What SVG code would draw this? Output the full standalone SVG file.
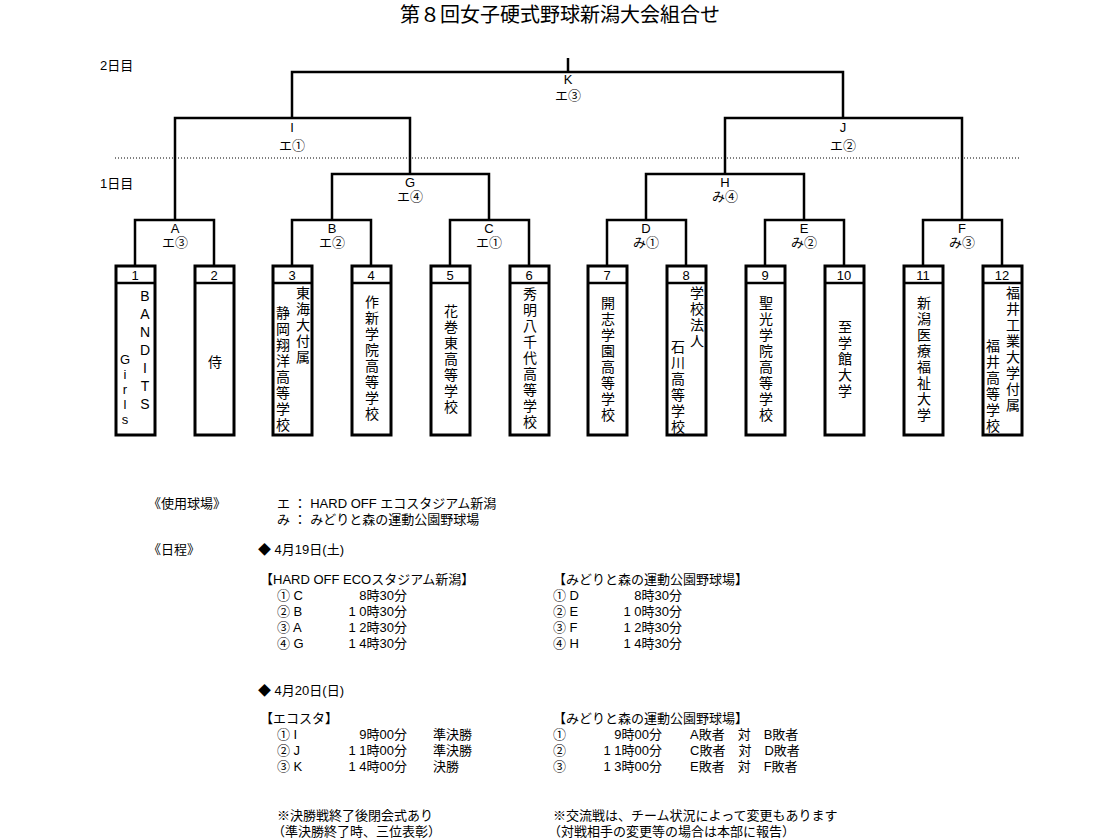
<svg xmlns="http://www.w3.org/2000/svg" width="1120" height="840" viewBox="0 0 1120 840">
<style>
text{font-family:"Liberation Sans","Noto Sans CJK JP",sans-serif;font-size:13px;fill:#000}
.t{font-size:20px}
.c{text-anchor:middle}
.e{text-anchor:end}
.v{writing-mode:vertical-rl;text-orientation:upright;font-size:14px;letter-spacing:2px}
.ln{stroke:#000;stroke-width:2.5;fill:none}
.bx{stroke:#000;stroke-width:3;fill:#fff}
</style>
<rect width="1120" height="840" fill="#fff"/>
<text class="t c" x="560" y="22">第８回女子硬式野球新潟大会組合せ</text>
<text x="100" y="70">2日目</text>
<text x="100" y="188">1日目</text>
<line x1="115" y1="158" x2="1020" y2="158" stroke="#000" stroke-width="1" stroke-dasharray="1,2"/>
<g id="connectors" class="ln">
<path d="M568 58V72M292 118V72H843V118"/>
<path d="M175 220V118H410V174M725 174V118H962V220"/>
<path d="M332 220V174H489V220M646 220V174H804V220"/>
<path d="M135 266V220H214V266M292 266V220H371V266M450 266V220H529V266"/>
<path d="M607 266V220H686V266M765 266V220H844V266M923 266V220H1002V266"/>
</g>
<g id="labels">
<text class="c" x="568" y="84">K</text><text class="c" x="568" y="100">エ③</text>
<text class="c" x="292" y="132">I</text><text class="c" x="292" y="150">エ①</text>
<text class="c" x="843" y="132">J</text><text class="c" x="843" y="150">エ②</text>
<text class="c" x="410" y="187">G</text><text class="c" x="410" y="201">エ④</text>
<text class="c" x="725" y="187">H</text><text class="c" x="725" y="201">み④</text>
<text class="c" x="175" y="233">A</text><text class="c" x="175" y="247">エ③</text>
<text class="c" x="332" y="233">B</text><text class="c" x="332" y="247">エ②</text>
<text class="c" x="489" y="233">C</text><text class="c" x="489" y="247">エ①</text>
<text class="c" x="646" y="233">D</text><text class="c" x="646" y="247">み①</text>
<text class="c" x="804" y="233">E</text><text class="c" x="804" y="247">み②</text>
<text class="c" x="962" y="233">F</text><text class="c" x="962" y="247">み③</text>
</g>
<g id="t1"><rect class="bx" x="116" y="266" width="39" height="169"/><line class="ln" x1="116" y1="283" x2="155" y2="283"/><text class="c" x="135" y="280">1</text><text class="v" x="145" y="288">BANDITS</text><text class="v" x="125" y="352" style="letter-spacing:0;font-size:13px">Girls</text></g>
<g id="t2"><rect class="bx" x="195" y="266" width="39" height="169"/><line class="ln" x1="195" y1="283" x2="234" y2="283"/><text class="c" x="214" y="280">2</text><text class="v" x="214" y="355">侍</text></g>
<g id="t3"><rect class="bx" x="273" y="266" width="39" height="169"/><line class="ln" x1="273" y1="283" x2="312" y2="283"/><text class="c" x="292" y="280">3</text><text class="v" x="302" y="286">東海大付属</text><text class="v" x="282" y="306">静岡翔洋高等学校</text></g>
<g id="t4"><rect class="bx" x="352" y="266" width="39" height="169"/><line class="ln" x1="352" y1="283" x2="391" y2="283"/><text class="c" x="371" y="280">4</text><text class="v" x="371" y="295">作新学院高等学校</text></g>
<g id="t5"><rect class="bx" x="431" y="266" width="39" height="169"/><line class="ln" x1="431" y1="283" x2="470" y2="283"/><text class="c" x="450" y="280">5</text><text class="v" x="450" y="304">花巻東高等学校</text></g>
<g id="t6"><rect class="bx" x="510" y="266" width="39" height="169"/><line class="ln" x1="510" y1="283" x2="549" y2="283"/><text class="c" x="529" y="280">6</text><text class="v" x="529" y="287">秀明八千代高等学校</text></g>
<g id="t7"><rect class="bx" x="588" y="266" width="39" height="169"/><line class="ln" x1="588" y1="283" x2="627" y2="283"/><text class="c" x="607" y="280">7</text><text class="v" x="607" y="296">開志学園高等学校</text></g>
<g id="t8"><rect class="bx" x="667" y="266" width="39" height="169"/><line class="ln" x1="667" y1="283" x2="706" y2="283"/><text class="c" x="686" y="280">8</text><text class="v" x="696" y="286">学校法人</text><text class="v" x="677" y="340">石川高等学校</text></g>
<g id="t9"><rect class="bx" x="746" y="266" width="39" height="169"/><line class="ln" x1="746" y1="283" x2="785" y2="283"/><text class="c" x="765" y="280">9</text><text class="v" x="765" y="296">聖光学院高等学校</text></g>
<g id="t10"><rect class="bx" x="825" y="266" width="39" height="169"/><line class="ln" x1="825" y1="283" x2="864" y2="283"/><text class="c" x="844" y="280">10</text><text class="v" x="844" y="320">至学館大学</text></g>
<g id="t11"><rect class="bx" x="904" y="266" width="39" height="169"/><line class="ln" x1="904" y1="283" x2="943" y2="283"/><text class="c" x="923" y="280">11</text><text class="v" x="923" y="296">新潟医療福祉大学</text></g>
<g id="t12"><rect class="bx" x="983" y="266" width="39" height="169"/><line class="ln" x1="983" y1="283" x2="1022" y2="283"/><text class="c" x="1002" y="280">12</text><text class="v" x="1012" y="286">福井工業大学付属</text><text class="v" x="992" y="339">福井高等学校</text></g>
<g id="info">
<text x="148" y="508">《使用球場》</text>
<text x="277" y="508">エ ： HARD OFF エコスタジアム新潟</text>
<text x="277" y="524">み ： みどりと森の運動公園野球場</text>
<text x="148" y="554">《日程》</text>
<text x="258" y="554">◆ 4月19日(土)</text>
<text x="260" y="584">【HARD OFF ECOスタジアム新潟】</text>
<text x="277" y="600">① C</text><text class="e" x="407" y="600">8時30分</text>
<text x="277" y="616">② B</text><text class="e" x="407" y="616">1 0時30分</text>
<text x="277" y="632">③ A</text><text class="e" x="407" y="632">1 2時30分</text>
<text x="277" y="648">④ G</text><text class="e" x="407" y="648">1 4時30分</text>
<text x="553" y="584">【みどりと森の運動公園野球場】</text>
<text x="553" y="600">① D</text><text class="e" x="682" y="600">8時30分</text>
<text x="553" y="616">② E</text><text class="e" x="682" y="616">1 0時30分</text>
<text x="553" y="632">③ F</text><text class="e" x="682" y="632">1 2時30分</text>
<text x="553" y="648">④ H</text><text class="e" x="682" y="648">1 4時30分</text>
<text x="258" y="695">◆ 4月20日(日)</text>
<text x="260" y="723">【エコスタ】</text>
<text x="277" y="739">① I</text><text class="e" x="407" y="739">9時00分</text><text x="433" y="739">準決勝</text>
<text x="277" y="755">② J</text><text class="e" x="407" y="755">1 1時00分</text><text x="433" y="755">準決勝</text>
<text x="277" y="771">③ K</text><text class="e" x="407" y="771">1 4時00分</text><text x="433" y="771">決勝</text>
<text x="553" y="723">【みどりと森の運動公園野球場】</text>
<text x="553" y="739">①</text><text class="e" x="662" y="739">9時00分</text><text x="690" y="739">A敗者　対　B敗者</text>
<text x="553" y="755">②</text><text class="e" x="662" y="755">1 1時00分</text><text x="690" y="755">C敗者　対　D敗者</text>
<text x="553" y="771">③</text><text class="e" x="662" y="771">1 3時00分</text><text x="690" y="771">E敗者　対　F敗者</text>
<text x="277" y="820">※決勝戦終了後閉会式あり</text>
<text x="272" y="836">（準決勝終了時、三位表彰）</text>
<text x="553" y="820">※交流戦は、チーム状況によって変更もあります</text>
<text x="548" y="836">（対戦相手の変更等の場合は本部に報告）</text>
</g>
</svg>
